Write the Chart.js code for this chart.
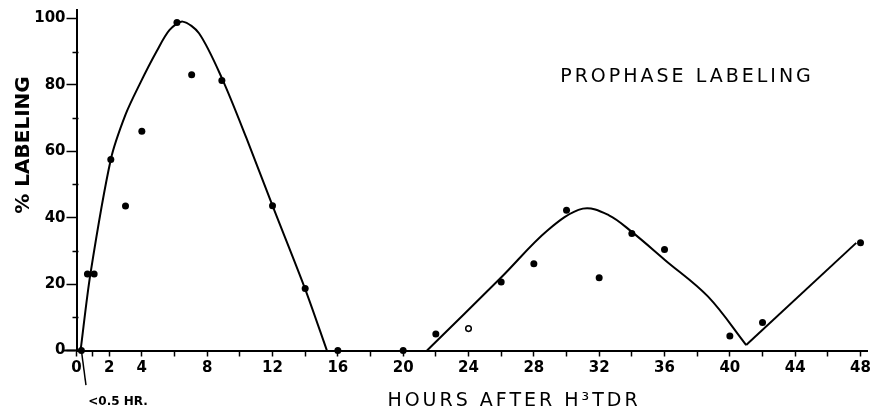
<!DOCTYPE html>
<html>
<head>
<meta charset="utf-8">
<script src="https://cdn.jsdelivr.net/npm/chart.js@4.4.1/dist/chart.umd.min.js"></script>
<style>
  html, body { margin: 0; padding: 0; background: #fff; }
  #wrap { width: 874px; height: 415px; position: relative; }
</style>
</head>
<body>
<div id="wrap"><canvas id="labelingChart"></canvas></div>
<script>
// observed points (hours after H3TdR, % labeling)
const pointHours    = [0.3, 0.67, 1.08, 2.1, 3.0, 4.0, 6.15, 7.05, 8.9, 12.0, 14.0, 16.0, 20.0, 22.0, 26.0, 28.0, 30.0, 32.0, 34.0, 36.0, 40.0, 42.0, 48.0];
const pointLabeling = [0, 23, 23, 57.5, 43.5, 66, 98.7, 83, 81.3, 43.6, 18.7, 0, 0, 5, 20.6, 26.1, 42.2, 21.9, 35.2, 30.4, 4.4, 8.4, 32.4];
const openHours    = [24.0];
const openLabeling = [6.6];

// fitted curves
const wave1Hours    = [0.25, 0.85, 2.1, 3.0, 3.9, 4.9, 5.7, 6.5, 7.5, 8.9, 10.4, 12.0, 14.0, 15.33];
const wave1Labeling = [0, 23, 57.5, 71, 80.5, 90, 96.5, 99, 95.5, 82, 64, 43.6, 18.5, 0];
const wave2Hours    = [21.46, 26.04, 28.85, 31.0, 32.6, 34.0, 36.04, 38.67, 41.0];
const wave2Labeling = [0, 22.2, 36.2, 42.7, 40.7, 35.7, 27.2, 16.2, 1.65];
const wave3Hours    = [41.0, 47.74];
const wave3Labeling = [1.65, 32.4];
const pointerHours    = [0.3, 0.58];
const pointerLabeling = [0, -10.4];

// axes
const xTickValues = [0, 1, 2, 4, 6, 8, 10, 12, 14, 16, 18, 20, 22, 24, 26, 28, 30, 32, 34, 36, 38, 40, 42, 44, 46, 48];
const xTickLabels = [0, 2, 4, 8, 12, 16, 20, 24, 28, 32, 36, 40, 44, 48];
const yMajorTicks = [0, 20, 40, 60, 80, 100];
const yMinorTicks = [10, 30, 50, 70, 90];

const FONT = '"DejaVu Sans", sans-serif';

function toXY(xs, ys) {
  return xs.map((x, i) => ({ x, y: ys[i] }));
}

function curve(xs, ys, tension) {
  return {
    data: toXY(xs, ys),
    showLine: true,
    borderColor: '#000',
    borderWidth: 2,
    pointRadius: 0,
    tension: tension,
    clip: false,
  };
}

const figureText = {
  id: 'figureText',
  afterDatasetsDraw(chart) {
    const { ctx, scales: { x, y } } = chart;
    const x0 = x.getPixelForValue(0);
    const y0 = y.getPixelForValue(0);
    ctx.save();
    ctx.strokeStyle = '#000';
    ctx.lineWidth = 2;
    ctx.beginPath();
    ctx.moveTo(x0 - 14, y0);
    ctx.lineTo(x0, y0);
    ctx.stroke();

    // short unlabeled ticks on the y axis
    ctx.lineWidth = 1.5;
    ctx.beginPath();
    yMinorTicks.forEach((v) => {
      const py = Math.round(y.getPixelForValue(v)) + 0.5;
      ctx.moveTo(x0 - 4, py);
      ctx.lineTo(x0 + 2, py);
    });
    ctx.stroke();

    ctx.fillStyle = '#000';
    ctx.textAlign = 'center';
    ctx.textBaseline = 'middle';

    ctx.font = '19px ' + FONT;
    ctx.letterSpacing = '3px';
    ctx.fillText('PROPHASE LABELING', 687, 77);
    ctx.fillText('HOURS AFTER H\u00b3TDR', 514, 401);

    ctx.letterSpacing = '0px';
    ctx.font = 'bold 12px ' + FONT;
    ctx.fillText('<0.5 HR.', 118, 402);

    ctx.translate(24, 145);
    ctx.rotate(-Math.PI / 2);
    ctx.font = 'bold 20px ' + FONT;
    ctx.fillText('% LABELING', 0, 0);
    ctx.restore();
  },
};

new Chart(document.getElementById('labelingChart'), {
  type: 'scatter',
  data: {
    datasets: [
      curve(wave1Hours, wave1Labeling, 0.3),
      curve(wave2Hours, wave2Labeling, 0.35),
      curve(wave3Hours, wave3Labeling, 0),
      Object.assign(curve(pointerHours, pointerLabeling, 0), { borderWidth: 1.5 }),
      {
        data: toXY(pointHours, pointLabeling),
        backgroundColor: '#000',
        borderColor: '#000',
        pointRadius: 3.5,
        borderWidth: 0,
        clip: false,
      },
      {
        data: toXY(openHours, openLabeling),
        backgroundColor: '#fff',
        borderColor: '#000',
        pointRadius: 2.8,
        borderWidth: 1.5,
        clip: false,
      },
    ],
  },
  options: {
    responsive: true,
    maintainAspectRatio: false,
    animation: false,
    events: [],
    layout: { padding: { top: 9, right: 0, bottom: 0, left: 0 } },
    plugins: {
      legend: { display: false },
      tooltip: { enabled: false },
    },
    scales: {
      x: {
        type: 'linear',
        min: 0,
        max: 48.4,
        afterBuildTicks(scale) {
          scale.ticks = xTickValues.map((value) => ({ value }));
        },
        afterFit(scale) { scale.height = 64.5; },
        ticks: {
          autoSkip: false,
          maxRotation: 0,
          color: '#000',
          padding: 3,
          font: { family: FONT, size: 15, weight: 'bold' },
          callback(value) { return xTickLabels.includes(value) ? String(value) : ''; },
        },
        grid: {
          drawOnChartArea: false,
          drawTicks: true,
          tickLength: 6,
          tickColor: '#000',
          tickWidth: 1.5,
        },
        border: { display: true, color: '#000', width: 2 },
      },
      y: {
        type: 'linear',
        min: 0,
        max: 102.5,
        afterBuildTicks(scale) {
          scale.ticks = yMajorTicks.map((value) => ({ value }));
        },
        afterFit(scale) { scale.width = 76.5; },
        ticks: {
          color: '#000',
          padding: 1,
          font: { family: FONT, size: 15, weight: 'bold' },
          callback(value) { return String(value); },
        },
        grid: {
          drawOnChartArea: false,
          drawTicks: true,
          tickLength: 10,
          tickColor: '#000',
          tickWidth: 1.5,
        },
        border: { display: true, color: '#000', width: 2 },
      },
    },
  },
  plugins: [figureText],
});
</script>
</body>
</html>
